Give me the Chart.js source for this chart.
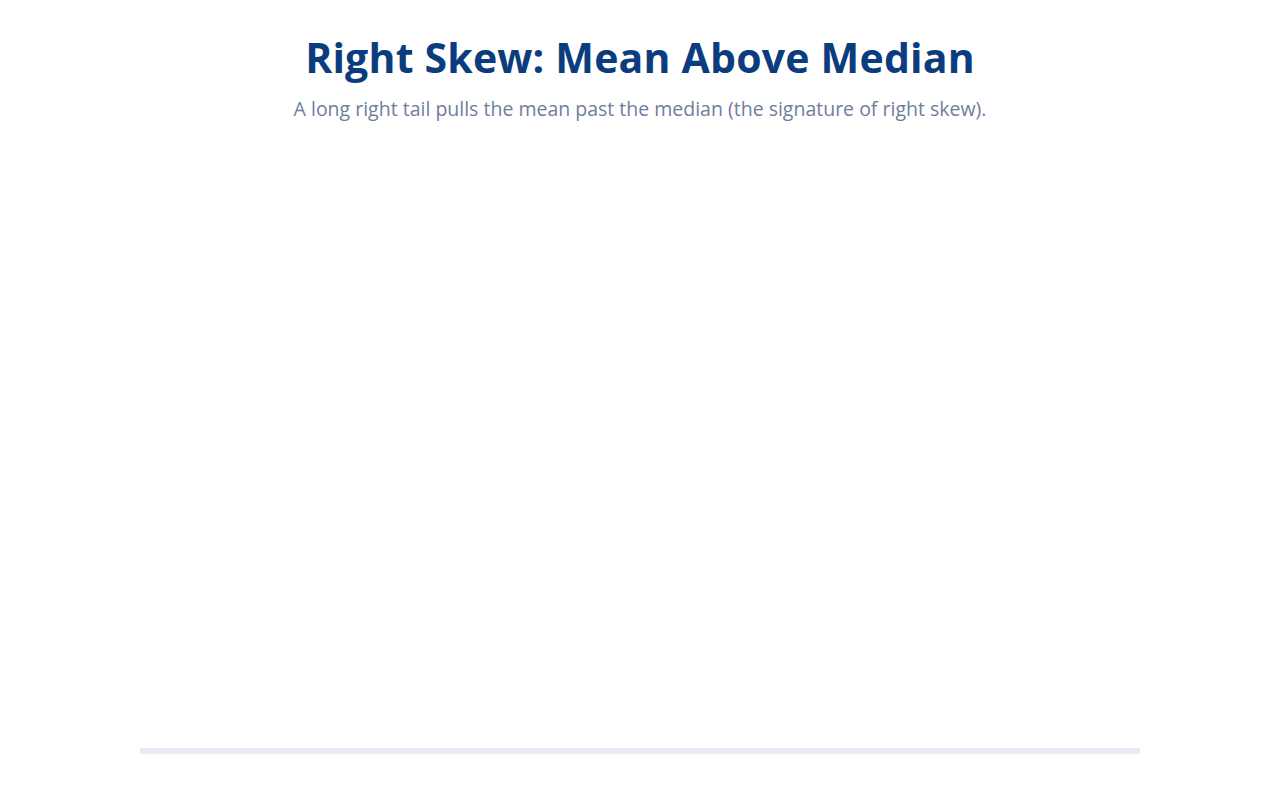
<!DOCTYPE html>
<html>
<head>
<meta charset="utf-8">
<title>Right Skew: Mean Above Median</title>
<script src="https://cdn.jsdelivr.net/npm/chart.js@4.4.1/dist/chart.umd.min.js"></script>
<style>
  html, body { margin: 0; padding: 0; background: #ffffff; }
  body { width: 1280px; height: 800px; overflow: hidden; font-family: "Open Sans", "Noto Sans", sans-serif; }
  h1 {
    margin: 0; position: absolute; top: 30px; left: 0; width: 1280px;
    text-align: center; font-size: 41px; font-weight: 700; color: #0b3c7d;
    letter-spacing: 0.2px; line-height: 54px;
  }
  .sub {
    position: absolute; top: 96px; left: 0; width: 1280px;
    text-align: center; font-size: 19.5px; color: #6f7d9b; line-height: 26px;
  }
  .wrap { position: absolute; left: 140px; top: 150px; width: 1000px; height: 620px; }
</style>
</head>
<body>
<h1>Right Skew: Mean Above Median</h1>
<div class="sub">A long right tail pulls the mean past the median (the signature of right skew).</div>
<div class="wrap"><canvas id="graph"></canvas></div>
<script>
// histogram bins (value ranges) and counts
const bins = ["0", "5", "10", "15", "20", "25", "30", "35", "40", "45",
              "50", "55", "60", "65", "70", "75", "80", "85", "90", "95"];
const counts = [4, 18, 42, 68, 82, 79, 70, 58, 47, 38, 30, 24, 18, 14, 11, 8, 6, 5, 3, 2];

const ctx = document.querySelector('#graph');

new Chart(ctx, {
  type: 'bar',
  data: {
    labels: bins,
    datasets: [{
      label: 'Count',
      data: counts,
      backgroundColor: 'rgba(11, 60, 125, 0.55)',
      borderRadius: 3,
      categoryPercentage: 1,
      barPercentage: 0.96
    }]
  },
  options: {
    responsive: true,
    maintainAspectRatio: false,
    // the reference was caught at the very start of the grow-in
    animation: { duration: 100000000, easing: 'linear' },
    layout: { padding: { top: 0, bottom: 11, left: 0, right: 0 } },
    plugins: {
      legend: { display: false },
      tooltip: { enabled: false }
    },
    scales: {
      x: {
        grid: { display: false },
        border: { display: true, color: '#e8ebf3', width: 6 },
        ticks: { display: false }
      },
      y: {
        display: false,
        beginAtZero: true
      }
    }
  }
});
</script>
</body>
</html>
